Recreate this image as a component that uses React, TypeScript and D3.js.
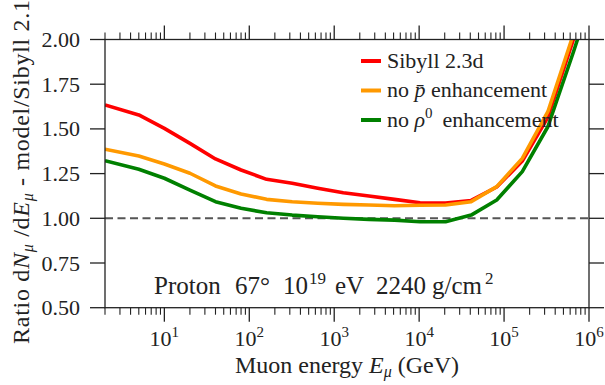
import React from "react";
import * as d3 from "d3";

const energies = [2, 5, 10, 20, 40, 80, 160, 320, 640, 1280, 2560, 5120, 10240, 20480, 40960, 81920, 163840, 327680, 655360, 1310720];
const sibyll23d = [1.634, 1.578, 1.503, 1.419, 1.332, 1.27, 1.218, 1.196, 1.168, 1.143, 1.125, 1.106, 1.087, 1.085, 1.1, 1.175, 1.32, 1.565, 2.0, 2.45];
const noPbar = [1.386, 1.348, 1.304, 1.252, 1.181, 1.136, 1.106, 1.093, 1.084, 1.078, 1.074, 1.07, 1.073, 1.074, 1.093, 1.177, 1.335, 1.596, 2.03, 2.5];
const noRho = [1.322, 1.274, 1.224, 1.158, 1.093, 1.056, 1.031, 1.018, 1.009, 1.0, 0.994, 0.99, 0.981, 0.981, 1.018, 1.102, 1.261, 1.512, 1.93, 2.37];
const yTicks = [0.5, 0.75, 1.0, 1.25, 1.5, 1.75, 2.0];
const xDecades = [1, 2, 3, 4, 5, 6];

const W = 605, H = 385;
const L = 105, R = 589, T = 39.5, B = 307.7;
const FONT = "'Liberation Serif', 'Times New Roman', serif";
const AX = "#222";
const FS = 22;
const SUB = 15;

export default function App() {
  const x = d3.scaleLog().domain([2, 1e6]).range([L, R]);
  const y = d3.scaleLinear().domain([0.5, 2.0]).range([B, T]);
  const line = d3.line<number>().x((_, i) => x(energies[i])).y((v) => y(v));

  const series = [
    { name: "Sibyll 2.3d", color: "#ff0000", data: sibyll23d },
    { name: "pbar", color: "#ff9900", data: noPbar },
    { name: "rho", color: "#008000", data: noRho },
  ];

  const minor: number[] = [];
  for (let e = 0; e <= 5; e++) {
    for (let m = 2; m <= 9; m++) {
      const v = m * Math.pow(10, e);
      if (v >= 2 && v <= 1e6) minor.push(v);
    }
  }
  const major = xDecades.map((d) => Math.pow(10, d));

  const legendX = 361, legendTextX = 387;
  const legendRows = [61, 90.5, 120];

  return (
    <svg width={W} height={H} style={{ position: "absolute", left: 0, top: 0, background: "#fff" }}>
      <defs>
        <clipPath id="plotclip">
          <rect x={L} y={T} width={R - L} height={B - T} />
        </clipPath>
      </defs>
      <rect x={0} y={0} width={W} height={H} fill="#fff" />

      {/* reference line */}
      <line x1={L} x2={R} y1={y(1)} y2={y(1)} stroke="#555" strokeWidth={2} strokeDasharray="8,4.5" />

      <g clipPath="url(#plotclip)">
        {series.map((s) => (
          <path key={s.name} d={line(s.data) || ""} fill="none" stroke={s.color} strokeWidth={3.6} strokeLinejoin="round" />
        ))}
      </g>

      {/* axes frame */}
      <rect x={L} y={T} width={R - L} height={B - T} fill="none" stroke={AX} strokeWidth={1.3} />

      {/* x ticks bottom & top */}
      {minor.map((v) => (
        <g key={"m" + v}>
          <line x1={x(v)} x2={x(v)} y1={B} y2={B + 7} stroke={AX} strokeWidth={1.1} />
          <line x1={x(v)} x2={x(v)} y1={T} y2={T - 7} stroke={AX} strokeWidth={1.1} />
        </g>
      ))}
      {major.map((v) => (
        <g key={"M" + v}>
          <line x1={x(v)} x2={x(v)} y1={B} y2={B + 14} stroke={AX} strokeWidth={1.3} />
          <line x1={x(v)} x2={x(v)} y1={T} y2={T - 14} stroke={AX} strokeWidth={1.3} />
        </g>
      ))}
      {xDecades.map((d) => (
        <text key={"xl" + d} x={x(Math.pow(10, d))} y={346} textAnchor="middle" fontFamily={FONT} fontSize={FS} fill="#222">
          10<tspan fontSize={SUB} dy={-9}>{d}</tspan>
        </text>
      ))}

      {/* y ticks */}
      {yTicks.map((t) => (
        <g key={"y" + t}>
          <line x1={L - 15} x2={L} y1={y(t)} y2={y(t)} stroke={AX} strokeWidth={1.3} />
          <line x1={R} x2={R + 15} y1={y(t)} y2={y(t)} stroke={AX} strokeWidth={1.3} />
          <text x={80} y={y(t) + 7.5} textAnchor="end" fontFamily={FONT} fontSize={FS} fill="#222">
            {t.toFixed(2)}
          </text>
        </g>
      ))}

      {/* axis labels */}
      <text x={(L + R) / 2} y={372.5} textAnchor="middle" fontFamily={FONT} fontSize={24} fill="#222">
        Muon energy <tspan fontStyle="italic">E</tspan>
        <tspan fontStyle="italic" fontSize={16} dy={4}>μ</tspan>
        <tspan dy={-4}> (GeV)</tspan>
      </text>
      <text
        transform={`translate(28.5,${(T + B) / 2 - 2}) rotate(-90)`}
        textAnchor="middle"
        fontFamily={FONT}
        fontSize={24}
        letterSpacing={0.7}
        fill="#222"
      >
        Ratio d<tspan fontStyle="italic">N</tspan>
        <tspan fontStyle="italic" fontSize={16} dy={4}>μ</tspan>
        <tspan dy={-4}> /d</tspan>
        <tspan fontStyle="italic">E</tspan>
        <tspan fontStyle="italic" fontSize={16} dy={4}>μ</tspan>
        <tspan dy={-4}> - model/Sibyll 2.1</tspan>
      </text>

      {/* annotation */}
      <text y={293.5} fontFamily={FONT} fontSize={25} fill="#222">
        <tspan x={154}>Proton</tspan>
        <tspan x={235}>67°</tspan>
        <tspan x={283}>10</tspan>
        <tspan x={309} dy={-10} fontSize={17}>19</tspan>
        <tspan x={335} dy={10}>eV</tspan>
        <tspan x={376}>2240</tspan>
        <tspan x={432}>g/cm</tspan>
        <tspan x={485} dy={-10} fontSize={17}>2</tspan>
      </text>

      {/* legend */}
      <line x1={legendX} x2={legendX + 20} y1={legendRows[0]} y2={legendRows[0]} stroke="#ff0000" strokeWidth={4} />
      <text x={legendTextX} y={legendRows[0] + 6.5} fontFamily={FONT} fontSize={FS} fill="#222">Sibyll 2.3d</text>
      <line x1={legendX} x2={legendX + 20} y1={legendRows[1]} y2={legendRows[1]} stroke="#ff9900" strokeWidth={4} />
      <text x={legendTextX} y={legendRows[1] + 6.5} fontFamily={FONT} fontSize={FS} fill="#222">
        no <tspan fontStyle="italic">p̄</tspan> enhancement
      </text>
      <line x1={legendX} x2={legendX + 20} y1={legendRows[2]} y2={legendRows[2]} stroke="#008000" strokeWidth={4} />
      <text x={legendTextX} y={legendRows[2] + 6.5} fontFamily={FONT} fontSize={FS} fill="#222">
        no <tspan fontStyle="italic">ρ</tspan>
        <tspan fontSize={SUB} dy={-9}>0</tspan>
        <tspan dy={9} dx={10}>enhancement</tspan>
      </text>
    </svg>
  );
}
